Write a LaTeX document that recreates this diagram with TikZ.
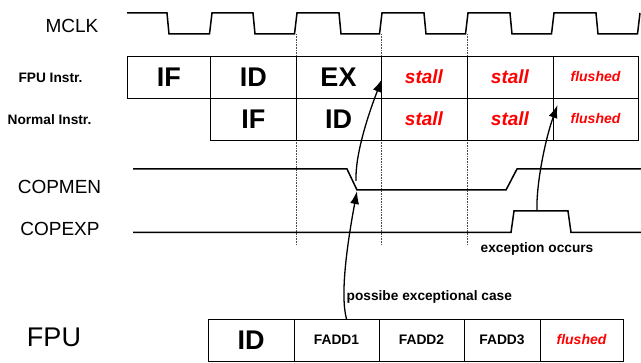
\documentclass[tikz,border=0pt]{standalone}
\usepackage{fontspec}
\setmainfont{Liberation Sans}
\usetikzlibrary{arrows.meta}
\definecolor{fred}{RGB}{255,0,0}
\begin{document}
\begin{tikzpicture}[x=1pt,y=-1pt,
  wave/.style={line width=1.5pt, line join=miter},
  cell/.style={draw, line width=0.9pt, minimum height=42pt, inner sep=0pt, outer sep=0pt},
  big/.style={font=\fontsize{27}{30}\selectfont\bfseries},
  stl/.style={text=fred, font=\fontsize{19}{22}\selectfont\bfseries\itshape},
  fl/.style={text=fred, font=\fontsize{14}{16}\selectfont\bfseries\itshape},
  sig/.style={font=\fontsize{19}{22}\selectfont, inner sep=0pt},
  lbl/.style={font=\fontsize{13.7}{16}\selectfont\bfseries, inner sep=0pt},
  fadd/.style={font=\fontsize{13.8}{16}\selectfont\bfseries},
  guide/.style={densely dotted, line width=0.6pt, black!70},
  arr/.style={line width=1.3pt, -{Latex[length=13pt,width=9pt]}}
]
\useasboundingbox (0,0) rectangle (641,363);

% signal labels
\node[sig] (mclk) at (72,25.5) {MCLK};
\node[lbl] (fpuinstr) at (50.5,77.5) {FPU Instr.};
\node[lbl] (normalinstr) at (49.5,120) {Normal Instr.};
\node[sig] (copmen) at (59.5,186.5) {COPMEN};
\node[sig] (copexp) at (60,228.5) {COPEXP};
\node[font=\fontsize{27}{30}\selectfont, inner sep=0pt] (fpu) at (54,337.5) {FPU};

% MCLK waveform
\draw[wave] (127,13) -- (167,13) -- (169,34) -- (209.5,34) -- (212,13)
  -- (253,13) -- (255,34) -- (294.5,34) -- (297,13)
  -- (339,13) -- (341,34) -- (379.5,34) -- (382,13)
  -- (424,13) -- (426,34) -- (465.5,34) -- (468,13)
  -- (510,13) -- (512,34) -- (551.5,34) -- (554,13)
  -- (596,13) -- (598,34) -- (637.5,34) -- (640,13);

% dotted guides
\foreach \x in {296,381,467} {
  \draw[guide] (\x,34) -- (\x,56);
  \draw[guide] (\x,140) -- (\x,245);
}

% pipeline table, FPU instruction row
\node[cell, minimum width=83.5pt, big] (r1c1) at (168.75,77) {IF};
\node[cell, minimum width=85.5pt, big] (r1c2) at (253.25,77) {ID};
\node[cell, minimum width=85pt, big] (r1c3) at (338.5,77) {EX};
\node[cell, minimum width=86pt, stl] (r1c4) at (424,77) {stall};
\node[cell, minimum width=86pt, stl] (r1c5) at (510,77) {stall};
\node[cell, minimum width=85pt, fl] (r1c6) at (595.5,77) {flushed};
% normal instruction row
\node[cell, minimum width=85.5pt, big] (r2c2) at (253.25,119) {IF};
\node[cell, minimum width=85pt, big] (r2c3) at (338.5,119) {ID};
\node[cell, minimum width=86pt, stl] (r2c4) at (424,119) {stall};
\node[cell, minimum width=86pt, stl] (r2c5) at (510,119) {stall};
\node[cell, minimum width=85pt, fl] (r2c6) at (595.5,119) {flushed};

% COPMEN waveform
\draw[wave] (133,169) -- (347,169) -- (357,190) -- (506,190) -- (517,169) -- (641,169);
% COPEXP waveform
\draw[wave] (133,232.5) -- (511,232.5) -- (514,211) -- (568,211) -- (571,232.5) -- (641,232.5);

% FPU table
\node[cell, minimum width=86pt, big] (fid) at (251,340) {ID};
\node[cell, minimum width=85pt, fadd] (fa1) at (336.5,340) {FADD1};
\node[cell, minimum width=85pt, fadd] (fa2) at (421.5,340) {FADD2};
\node[cell, minimum width=76pt, fadd] (fa3) at (502,340) {FADD3};
\node[cell, minimum width=83pt, fl] (ffl) at (581.5,340) {flushed};

% annotations
\node[lbl, anchor=west] (poss) at (346.5,297) {possibe exceptional case};
\node[lbl] (exc) at (537,248.5) {exception occurs};

% connector end points
\coordinate (fallEnd) at (357,191);
\coordinate (fallMid) at (356,181);
\coordinate (exEdge) at (382,79);
\coordinate (pulseTop) at (537,211);
\coordinate (flTip) at (557.5,105);
\coordinate (fa1top) at ([xshift=10pt]fa1.north);

\draw[arr] (fa1top) .. controls (340,295) and (347,245) .. (fallEnd);
\draw[arr] (fallMid) .. controls (355,155) and (368,115) .. (exEdge);
\draw[arr] (pulseTop) .. controls (536,185) and (545,140) .. (flTip);
\end{tikzpicture}
\end{document}
